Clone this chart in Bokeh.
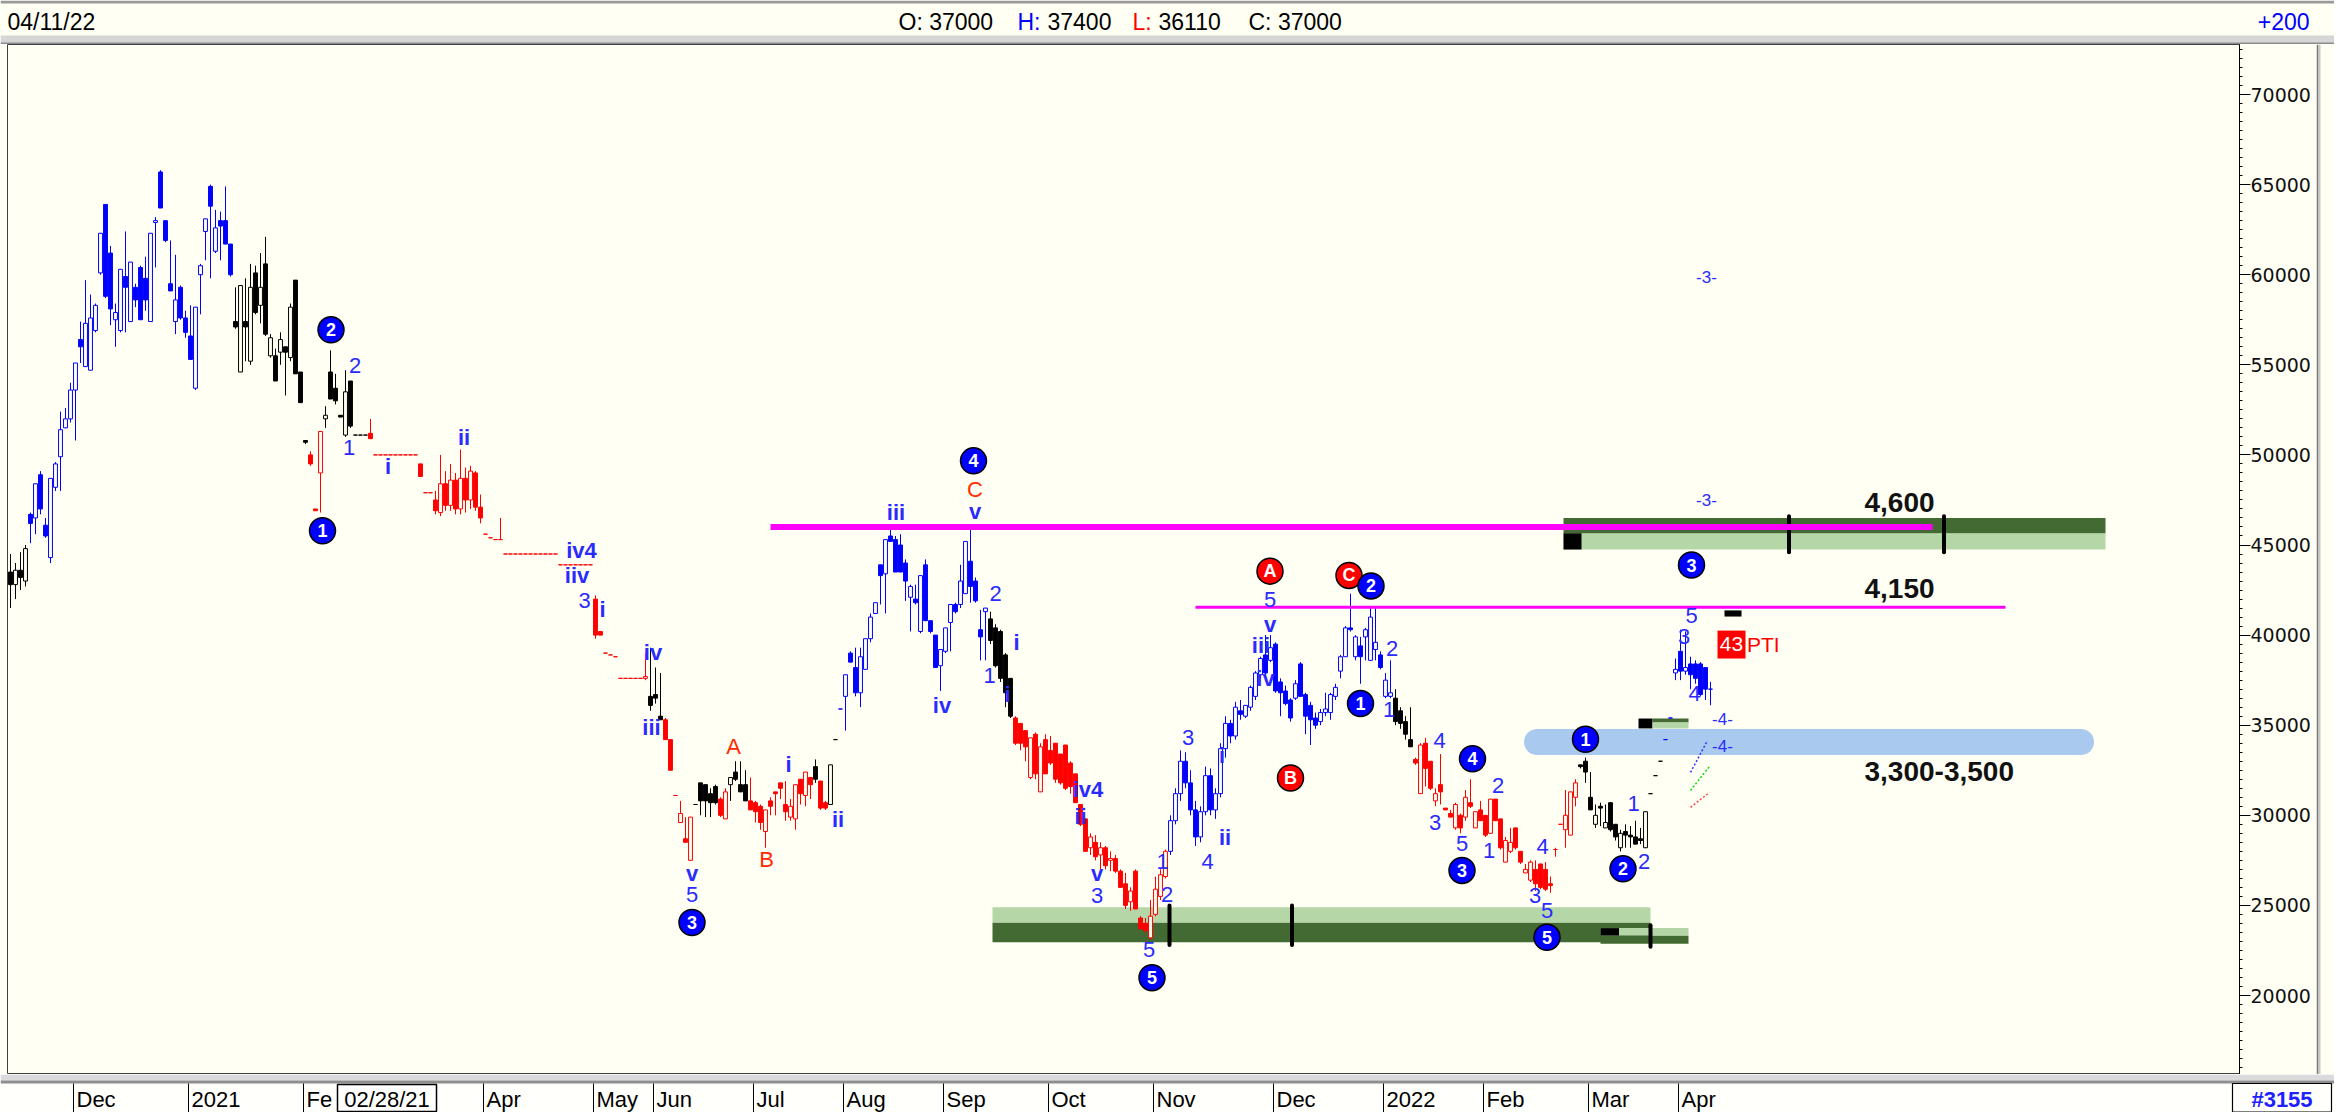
from bokeh.plotting import figure
from bokeh.models import Range1d, SingleIntervalTicker, NumeralTickFormatter, ColumnDataSource
from bokeh.layouts import column, row
from bokeh.embed import file_html
from bokeh.resources import INLINE
from bokeh.core.properties import value

# ---------------------------------------------------------------- data
opens = [
    43500, 42800, 43600, 43000, 46700, 46500, 48900, 46100, 44300, 48200,
    49900, 51500, 52000, 53600, 56400, 54900, 54700, 56900, 60100, 63900,
    61200, 57500, 56900, 59900, 57400, 59300, 60400, 59800, 57400, 62900,
    65700, 63000, 59500, 57400, 59300, 57600, 56600, 53700, 60000, 62400,
    64900, 61300, 63000, 63000, 61700, 57400, 54600, 57400, 55200, 60100,
    58300, 60600, 55500, 55500, 55700, 56000, 55400, 59700, 54600, 50800,
    50000, 47000, 49000, 52000, 54600, 53700, 52200, 51100, 54100, 51100,
    51100, 51100, 51200, 50000, 50000, 50000, 50000, 50000, 50000, 50000,
    50000, 50000, 49500, 47900, 47900, 47500, 46800, 48400, 47200, 48600,
    47000, 48700, 47500, 49000, 47100, 45600, 45400, 45300, 45300, 44500,
    44500, 44500, 44500, 44500, 44500, 44500, 44500, 44500, 44500, 44500,
    43900, 43900, 43900, 43900, 43900, 43900, 43900, 42000, 40200, 39000,
    38900, 38800, 37600, 37600, 37600, 37600, 37600, 37600, 36600, 36700,
    35500, 35300, 34200, 31100, 29600, 28700, 27500, 30600, 31800, 31700,
    31200, 31600, 30900, 29800, 31700, 32400, 31700, 31700, 30800, 30700,
    30500, 29100, 30800, 31300, 31800, 30600, 29900, 29800, 32000, 31100,
    32100, 32700, 31900, 30700, 30600, 34200, 35900, 36600, 39000, 38200,
    36800, 38100, 39800, 41200, 43900, 43400, 45500, 45300, 45000, 44000,
    42100, 42000, 40200, 43900, 40800, 40000, 38300, 39100, 40700, 41700,
    41700, 42300, 44100, 43000, 40300, 41300, 40900, 40400, 40200, 38900,
    37600, 35400, 35100, 34700, 32100, 34500, 31300, 34200, 33600, 34000,
    33400, 33900, 32900, 32300, 30600, 29800, 28200, 28500, 27800, 28200,
    27500, 27600, 26900, 26200, 25200, 26900, 24300, 24000, 23200, 24500,
    25500, 26600, 28000, 29700, 31200, 33000, 31800, 30300, 28800, 30200,
    32200, 30300, 31200, 33700, 35100, 34400, 35800, 35500, 36000, 36600,
    37800, 38900, 38600, 39500, 37400, 36900, 36400, 36500, 38400, 36700,
    36100, 35400, 35200, 35700, 35700, 36600, 38000, 38800, 40400, 38800,
    39400, 39900, 38600, 39200, 38900, 36600, 36600, 36500, 35800, 35200,
    34200, 33100, 31200, 34000, 33000, 30800, 31700, 30400, 30100, 29300,
    30000, 29900, 30700, 29300, 30300, 30000, 29000, 30900, 29800, 27400,
    28000, 29300, 28000, 26800, 26400, 27000, 27300, 27000, 26200, 28100,
    29500, 29200, 28900, 31000, 32800, 33000, 31000, 29500, 30500, 29300,
    30700, 29500, 28200, 29100, 28900, 28800, 28700, 28200, 31200, 32200,
    33000, 34200, 35400, 37900, 39100, 38000, 38400, 38400, 38400, 38200,
    37000,
]
highs = [
    44500, 44000, 44600, 45000, 46800, 48400, 49100, 46500, 48700, 49600,
    52400, 52600, 54000, 55100, 57400, 59700, 58900, 58400, 62300, 63900,
    61600, 58400, 60300, 62400, 60700, 59500, 60500, 61000, 62300, 63200,
    65800, 63000, 61900, 61100, 59400, 58000, 58300, 58200, 60600, 63100,
    65000, 63600, 63500, 64900, 61700, 59300, 59400, 59800, 60600, 60500,
    61200, 62100, 56700, 55900, 56800, 56000, 58400, 59700, 54600, 50800,
    50200, 47000, 51300, 52700, 55800, 54500, 52200, 54700, 54100, 51100,
    51100, 51100, 52000, 50000, 50000, 50000, 50000, 50000, 50000, 50000,
    50000, 50000, 49500, 47900, 47900, 48000, 50000, 49100, 49500, 49000,
    50300, 49300, 49400, 49100, 47800, 45600, 45400, 45300, 46500, 44500,
    44500, 44500, 44500, 44500, 44500, 44500, 44500, 44500, 44500, 44500,
    43900, 43900, 43900, 43900, 43900, 43900, 43900, 42200, 40200, 39000,
    38900, 38800, 37600, 37600, 37600, 37600, 37600, 39000, 39300, 38200,
    37900, 35400, 34200, 31100, 30800, 29900, 29900, 30600, 31800, 31700,
    31500, 31700, 31000, 31500, 32100, 33000, 33000, 32500, 32100, 30800,
    30600, 30300, 31000, 31300, 31800, 31900, 30900, 31700, 32000, 32400,
    32100, 33100, 31900, 30800, 32800, 34200, 35900, 37800, 39100, 39300,
    39300, 39800, 41200, 41800, 43900, 45300, 46000, 45500, 45600, 44200,
    42800, 42800, 43300, 44200, 40800, 40000, 39200, 40400, 41700, 41800,
    43900, 45200, 46100, 43200, 41400, 41500, 41300, 40600, 40300, 39000,
    37600, 35500, 35100, 34700, 34300, 34600, 34000, 34500, 34400, 34000,
    33400, 33900, 33000, 32300, 30600, 29800, 29000, 28900, 28500, 28300,
    28000, 27800, 27000, 26800, 26000, 27000, 24400, 24300, 25300, 26600,
    27000, 28100, 30000, 31500, 33600, 33500, 32500, 30800, 30500, 32700,
    32600, 31500, 34000, 35500, 35300, 36300, 36400, 36100, 37200, 38000,
    38800, 40000, 40000, 39600, 37600, 37200, 36500, 37500, 38500, 36800,
    36300, 35700, 35900, 36800, 36800, 37300, 38900, 40500, 42300, 40000,
    39900, 40400, 41500, 41500, 39100, 37900, 38600, 37000, 36000, 35500,
    36000, 33200, 34000, 34300, 33000, 31500, 33400, 30400, 30300, 30700,
    30100, 31400, 32000, 30200, 30800, 30000, 30900, 30900, 29800, 28800,
    29300, 29300, 28000, 27300, 27500, 27500, 27300, 27400, 26600, 28200,
    29500, 31400, 31300, 32000, 32800, 33200, 32400, 30600, 30700, 30600,
    30700, 29500, 29200, 29500, 29400, 29700, 29300, 30200, 31200, 32200,
    33000, 34200, 35400, 38700, 40300, 40200, 38800, 38600, 38500, 38200,
    37400,
]
lows = [
    41500, 42000, 42500, 42700, 45100, 45600, 46700, 45400, 44000, 48000,
    48000, 51500, 51800, 50800, 55100, 54900, 54700, 56800, 60000, 58700,
    57200, 56000, 56800, 56800, 57400, 58200, 57500, 58000, 57400, 60400,
    63700, 61800, 59100, 56700, 57500, 56500, 55300, 53600, 57800, 60800,
    59800, 61200, 60800, 61700, 59900, 57000, 54600, 55200, 55000, 57800,
    57300, 56600, 55400, 54100, 55000, 53300, 55200, 54500, 52900, 50600,
    49400, 46900, 46800, 51500, 53100, 52800, 52100, 51000, 51500, 51100,
    51100, 51100, 50900, 50000, 50000, 50000, 50000, 50000, 50000, 50000,
    50000, 50000, 48800, 47900, 47900, 46700, 46600, 46900, 46900, 46700,
    46700, 46800, 47000, 46900, 46200, 45600, 45400, 45300, 45300, 44500,
    44500, 44500, 44500, 44500, 44500, 44500, 44500, 44500, 44500, 44500,
    43900, 43900, 43900, 43900, 43900, 43900, 43900, 39800, 40000, 39000,
    38900, 38800, 37600, 37600, 37600, 37600, 37600, 37500, 35800, 36200,
    35300, 34200, 32500, 31100, 29600, 28500, 27500, 30600, 30000, 29900,
    29900, 30600, 29900, 29800, 30800, 31900, 31300, 30800, 30300, 29600,
    29200, 28200, 30000, 30000, 30900, 29700, 29700, 29200, 30600, 30500,
    30900, 31800, 30300, 30300, 30600, 34200, 35900, 34700, 38500, 36600,
    36000, 38100, 39600, 41200, 41700, 41200, 45200, 43500, 43500, 41900,
    40200, 41700, 40100, 40800, 40100, 38200, 36900, 39000, 39100, 41200,
    41500, 42300, 41800, 41800, 38600, 38600, 39500, 38200, 37400, 36000,
    35400, 33900, 33600, 33000, 32000, 32000, 31300, 32300, 32800, 31800,
    31700, 31400, 31200, 30700, 29400, 28000, 27800, 27500, 27000, 27000,
    26900, 26800, 26000, 24800, 24700, 24800, 23700, 23500, 23100, 24400,
    25300, 26500, 27800, 29500, 30800, 31500, 30000, 28300, 28500, 30000,
    30000, 29800, 31000, 33200, 34000, 34200, 35300, 35400, 35800, 36400,
    37600, 37800, 38500, 36800, 35500, 36100, 35200, 36400, 36600, 34500,
    33900, 34800, 35000, 35500, 35300, 36400, 37600, 38800, 40200, 38600,
    37300, 38600, 38600, 38600, 38100, 36500, 36500, 35000, 34800, 34200,
    33800, 32800, 31200, 31600, 31400, 30500, 30600, 30300, 29900, 29200,
    29000, 29700, 30400, 29300, 29700, 28800, 29000, 29700, 28100, 27400,
    27900, 28100, 27300, 26800, 26300, 25800, 25900, 25800, 25700, 27700,
    29500, 28200, 28900, 30500, 32600, 31800, 30300, 29300, 29400, 29300,
    29100, 28600, 28000, 28200, 28200, 28400, 28400, 28200, 31200, 32200,
    33000, 34200, 35400, 37500, 37500, 37800, 37000, 37300, 36600, 36400,
    36110,
]
closes = [
    42800, 43600, 43200, 44800, 46200, 48400, 47000, 45500, 48700, 49500,
    51400, 52000, 53600, 55100, 56000, 57300, 57600, 58300, 62300, 58800,
    58100, 57900, 60300, 59300, 60700, 58600, 57500, 58600, 62300, 63000,
    63700, 61900, 59100, 58600, 57600, 56800, 55300, 58200, 60500, 63100,
    63800, 62600, 62700, 61700, 60000, 57100, 59400, 57100, 59300, 57900,
    59300, 56700, 56500, 54100, 56400, 55700, 58200, 54500, 52900, 50700,
    49500, 46900, 51300, 52200, 53100, 53000, 52100, 53500, 51600, 51100,
    51100, 51100, 50900, 50000, 50000, 50000, 50000, 50000, 50000, 50000,
    50000, 50000, 48800, 47900, 47900, 46900, 48400, 47200, 48600, 47000,
    48700, 47500, 49100, 47100, 46500, 45600, 45400, 45300, 45300, 44500,
    44500, 44500, 44500, 44500, 44500, 44500, 44500, 44500, 44500, 44500,
    43900, 43900, 43900, 43900, 43900, 43900, 43900, 40000, 40000, 39000,
    38900, 38800, 37600, 37600, 37600, 37600, 37600, 37700, 36100, 36500,
    35300, 34200, 32500, 31100, 30100, 28500, 29900, 30600, 30800, 30800,
    30700, 30700, 30000, 31300, 32100, 32000, 31300, 30800, 30300, 30200,
    29600, 30300, 30500, 31200, 31500, 30200, 30500, 31700, 31200, 32400,
    31700, 32000, 30400, 30400, 32800, 34200, 35900, 37800, 38500, 36800,
    38800, 39800, 41000, 41800, 43300, 45300, 45200, 43500, 43500, 43000,
    42700, 41800, 43300, 40800, 40200, 38200, 39200, 40400, 41700, 41300,
    43000, 45200, 42700, 41900, 39900, 41500, 39700, 38300, 37600, 36800,
    35500, 34000, 34000, 33800, 34300, 32300, 33800, 32300, 32900, 32000,
    31800, 31500, 31600, 30700, 29500, 28000, 28800, 27700, 28200, 27200,
    27600, 26900, 26000, 25000, 25800, 24800, 23700, 23600, 24400, 25900,
    26700, 28000, 29700, 31200, 33000, 31800, 30300, 28800, 30200, 32200,
    30300, 31200, 33700, 35100, 34400, 36000, 35600, 36100, 37100, 37900,
    38700, 37900, 39300, 36900, 36800, 36200, 35400, 37300, 36600, 35500,
    35300, 35000, 35700, 35900, 36700, 37100, 38800, 40400, 40300, 39900,
    38800, 40300, 41000, 39600, 38200, 37500, 36800, 35200, 35100, 34500,
    33800, 32900, 33900, 32600, 31500, 31200, 31300, 30300, 29900, 30600,
    29300, 31000, 30500, 30200, 29700, 28900, 30900, 29700, 28200, 28600,
    28500, 28200, 27400, 27000, 27400, 26200, 26000, 25900, 26100, 28100,
    29500, 30000, 31300, 31800, 32700, 32400, 30300, 30000, 30400, 29600,
    29200, 28800, 29000, 28900, 28800, 28400, 28600, 30200, 31200, 32200,
    33000, 34200, 35400, 38100, 38000, 38200, 37800, 37600, 36700, 37000,
    37000,
]
# trend colour of each bar (b = blue, k = black, r = red), as runs
colour_runs = [("k", 4), ("b", 41), ("k", 15), ("r", 3), ("k", 9), ("r", 56),
               ("k", 3), ("r", 6), ("k", 5), ("r", 2), ("k", 4), ("r", 13),
               ("k", 1), ("r", 2), ("k", 2), ("b", 30), ("k", 5), ("r", 31),
               ("b", 45), ("k", 4), ("r", 33), ("k", 17), ("b", 10)]

# x axis: first bar of each month
month_labels = ["Dec", "2021", "Fe", "Apr", "May", "Jun", "Jul", "Aug", "Sep",
                "Oct", "Nov", "Dec", "2022", "Feb", "Mar", "Apr"]
month_start_bar = [13, 36, 59, 95, 117, 129, 149, 167, 187, 208, 229, 253,
                   275, 295, 316, 334]
cursor_date = "02/28/21"
cursor_bar = 75.3
bar_count_label = "#3155"

# header readout
hdr_date = "04/11/22"
hdr_o, hdr_h, hdr_l, hdr_c = 37000, 37400, 36110, 37000
hdr_change = "+200"

# wave labels (bar position, price)
blue_txt = ["2", "1", "i", "ii", "iv4", "iiv", "3", "i", "iv", "iii", "v", "5",
            "i", "ii", "iii", "iv", "v", "2", "1", "i", "i", "ii", "iv4", "v",
            "3", "5", "1", "2", "3", "4", "i", "ii", "5", "v", "iii", "iv", "2",
            "1", "4", "3", "5", "1", "2", "4", "3", "5", "1", "2", "5", "3", "4"]
blue_x = [68.9, 67.7, 75.5, 90.7, 114.2, 113.3, 114.8, 118.4, 128.5, 128.2,
          136.3, 136.3, 155.6, 165.5, 177.1, 186.3, 192.9, 197.0, 195.8, 201.2,
          199.4, 214.0, 215.5, 217.3, 217.3, 227.7, 230.4, 231.3, 235.5, 239.4,
          242.3, 242.9, 251.9, 251.9, 250.1, 251.0, 276.3, 275.7, 285.8, 284.9,
          290.3, 295.7, 297.5, 306.4, 304.9, 307.3, 324.6, 326.7, 336.2, 334.7,
          336.8]
blue_y = [54960, 50410, 49340, 50990, 44710, 43310, 41900, 41410, 39010, 34880,
          26780, 25620, 32810, 29750, 46780, 36120, 46860, 42320, 37770, 39590,
          36700, 29920, 31410, 26780, 25540, 22560, 27440, 25620, 34300, 27440,
          33310, 28760, 41990, 40580, 39420, 37600, 39260, 35870, 34130, 29590,
          28430, 28020, 31660, 28270, 25540, 24710, 30660, 27440, 41080, 39920,
          36780]
red_txt = ["C", "A", "B"]
red_x = [192.9, 144.6, 151.2]
red_y = [48100, 33800, 27520]
bcirc_txt = ["2", "1", "3", "4", "5", "2", "1", "4", "3", "5", "1", "2", "3"]
bcirc_x = [64.1, 62.4, 136.3, 192.6, 228.3, 272.1, 270.0, 292.4, 290.3, 307.3,
           315.0, 322.5, 336.2]
bcirc_y = [56940, 45790, 24050, 49670, 20990, 42730, 36200, 33140, 26940, 23230,
           34220, 27030, 43890]
rcirc_txt = ["A", "C", "B"]
rcirc_x = [251.9, 267.7, 256.0]
rcirc_y = [43550, 43310, 32070]

# horizontal levels
level_price = [46000, 41550]
level_from = [152, 237]
level_to = [384.4, 399]
level_txt = ["4,600", "4,150", "3,300-3,500"]
level_txt_y = [47360, 42590, 32430]
level_txt_x = 370.8
target_band = (305.3, 414.1, 34070)

# support / resistance zones: (from, to, low, mid, high, dark part on top?)
zones = [(310.6, 419.0, 44750, 45650, 46500, True),
         (196.4, 328.0, 22950, 24050, 24900, False),
         (318.0, 335.6, 22870, 23330, 23740, False)]
zone_ticks_x = [355.7, 386.7, 231.8, 256.3, 328.0]
zone_ticks_lo = [44600, 44600, 22800, 22800, 22700]
zone_ticks_hi = [46600, 46600, 25000, 25000, 23900]

# ---------------------------------------------------------------- styling
BG = "#FFFFF4"
FONT = "Liberation Sans"
BLUE_T = "#2B2BFF"
RED_T = "#FF2A00"
LIGHT_G, DARK_G = "#B5D6A7", "#436A32"
LEFT_W = 7
FRAME_W, FRAME_H = 2232, 1030
RIGHT_W = 77
SIDE_W = 18
TOTAL_W = LEFT_W + FRAME_W + RIGHT_W + SIDE_W
HDR_H, STRIP_H = 44, 38
PX_PER_BAR = 5.0
X0 = -0.6
X1 = X0 + FRAME_W / PX_PER_BAR
Y_BOT, Y_TOP = 15616, 72775

N = min(len(opens), len(highs), len(lows), len(closes))
codes = "".join(c * n for c, n in colour_runs)
palette = {"b": "#0000FF", "k": "#000000", "r": "#FF0000"}
bar_col = [palette[codes[i]] if i < len(codes) else "#000000" for i in range(N)]
src = ColumnDataSource(dict(
    x=list(range(N)),
    h=highs[:N], l=lows[:N],
    top=[max(o, c) for o, c in zip(opens[:N], closes[:N])],
    bot=[min(o, c) for o, c in zip(opens[:N], closes[:N])],
    col=bar_col,
    fill=[bar_col[i] if closes[i] < opens[i] else BG for i in range(N)],
))

# ---------------------------------------------------------------- main chart
p = figure(frame_width=FRAME_W, frame_height=FRAME_H,
           x_range=Range1d(X0, X1), y_range=Range1d(Y_BOT, Y_TOP),
           output_backend="svg", toolbar_location=None,
           x_axis_location=None, y_axis_location="right",
           min_border_left=LEFT_W, min_border_top=0, min_border_bottom=0,
           min_border_right=RIGHT_W,
           background_fill_color=BG, border_fill_color=BG,
           outline_line_color="#404040", outline_line_width=1)
p.grid.visible = False
ya = p.yaxis[0]
ya.ticker = SingleIntervalTicker(interval=5000, num_minor_ticks=10)
ya.formatter = NumeralTickFormatter(format="0")
ya.major_tick_out = 11
ya.major_tick_in = 0
ya.minor_tick_out = 3
ya.minor_tick_in = 0
ya.major_tick_line_color = "black"
ya.minor_tick_line_color = "black"
ya.axis_line_color = "black"
ya.major_label_standoff = 0
ya.major_label_text_font = "DejaVu Sans"
ya.major_label_text_font_size = "19px"
ya.major_label_text_color = "#101010"

# target band (pill)
p.line(x=[target_band[0], target_band[1]], y=[target_band[2]] * 2,
       line_width=26, line_cap="round", color="#A9C9EF")

# zones
for (z0, z1, lo, mid, hi, dark_top) in zones:
    p.quad(left=[z0], right=[z1], bottom=[lo], top=[mid],
           fill_color=LIGHT_G if dark_top else DARK_G, line_color=None)
    p.quad(left=[z0], right=[z1], bottom=[mid], top=[hi],
           fill_color=DARK_G if dark_top else LIGHT_G, line_color=None)
# zone start markers
p.quad(left=[310.6, 318.0], right=[314.2, 321.7], bottom=[44750, 23330],
       top=[45650, 23740], fill_color="black", line_color=None)
# small zone near 35000
p.quad(left=[325.6], right=[328.4], bottom=[34820], top=[35370],
       fill_color="black", line_color=None)
p.quad(left=[328.4], right=[335.6], bottom=[35150], top=[35370],
       fill_color=DARK_G, line_color=None)
p.quad(left=[328.4], right=[335.6], bottom=[34820], top=[35150],
       fill_color=LIGHT_G, line_color=None)
p.segment(x0=zone_ticks_x, x1=zone_ticks_x, y0=zone_ticks_lo, y1=zone_ticks_hi,
          line_width=4, line_cap="round", color="black")

# candles
p.segment(x0="x", y0="l", x1="x", y1="h", line_color="col", line_width=1, source=src)
p.vbar(x="x", width=0.78, top="top", bottom="bot", fill_color="fill",
       line_color="col", line_width=1, source=src)

# levels
p.segment(x0=[level_from[0]], x1=[level_to[0]], y0=[level_price[0]], y1=[level_price[0]],
          line_width=6, color="#FF00FF")
p.segment(x0=[level_from[1]], x1=[level_to[1]], y0=[level_price[1]], y1=[level_price[1]],
          line_width=3, color="#FF00FF")
p.text(x=[level_txt_x] * 3, y=level_txt_y, text=level_txt,
       text_font=value(FONT), text_font_size="28px", text_font_style="bold",
       text_color="#111111", text_align="left", text_baseline="middle")

# small marks near the last bar
p.quad(left=[342.8], right=[346.2], bottom=[41030], top=[41370],
       fill_color="black", line_color=None)
p.quad(left=[341.4], right=[347.0], bottom=[38700], top=[40250],
       fill_color="#FF0000", line_color=None)
p.text(x=[344.2], y=[39480], text=["43"], text_font=value(FONT),
       text_font_size="21px", text_color="white", text_align="center",
       text_baseline="middle")
p.text(x=[347.3], y=[39480], text=["PTI"], text_font=value(FONT),
       text_font_size="21px", text_color="#FF0000", text_align="left",
       text_baseline="middle")
p.text(x=[339.2, 339.2, 342.4, 342.4], y=[59900, 47500, 35370, 33870],
       text=["-3-", "-3-", "-4-", "-4-"], text_font=value(FONT),
       text_font_size="17px", text_color=BLUE_T, text_align="center",
       text_baseline="middle")
p.line(x=[336.0, 339.4], y=[32380, 34150], line_dash="2 2", line_width=1.5, color="#3030FF")
p.line(x=[336.0, 339.8], y=[31380, 32710], line_dash="2 2", line_width=1.5, color="#00DD00")
p.line(x=[336.0, 339.8], y=[30440, 31270], line_dash="2 2", line_width=1.5, color="#FF4444")

# wave labels
blue_style = ["normal" if t.isdigit() else "bold" for t in blue_txt]
p.text(x="x", y="y", text="t", text_font_style="s",
       source=ColumnDataSource(dict(x=blue_x, y=blue_y, t=blue_txt, s=blue_style)),
       text_font=value(FONT), text_font_size="22px", text_color=BLUE_T,
       text_align="center", text_baseline="middle")
p.text(x=red_x, y=red_y, text=red_txt, text_font=value(FONT),
       text_font_size="22px", text_color=RED_T, text_align="center",
       text_baseline="middle")
p.scatter(x=rcirc_x, y=rcirc_y, size=26, marker="circle", fill_color="#FF0000",
          line_color="black", line_width=1.5)
p.text(x=rcirc_x, y=rcirc_y, text=rcirc_txt, text_font=value(FONT),
       text_font_size="18px", text_font_style="bold", text_color="white",
       text_align="center", text_baseline="middle")
p.scatter(x=bcirc_x, y=bcirc_y, size=26, marker="circle", fill_color="#0000FF",
          line_color="black", line_width=1.5)
p.text(x=bcirc_x, y=bcirc_y, text=bcirc_txt, text_font=value(FONT),
       text_font_size="18px", text_font_style="bold", text_color="white",
       text_align="center", text_baseline="middle")

# right-hand window border
side = figure(frame_width=SIDE_W, frame_height=FRAME_H,
              x_range=Range1d(0, SIDE_W), y_range=Range1d(0, FRAME_H),
              output_backend="svg", toolbar_location=None,
              x_axis_location=None, y_axis_location=None, min_border=0,
              background_fill_color=BG, border_fill_color=BG, outline_line_color=None)
side.grid.visible = False
side.quad(left=[0], right=[2], bottom=[0], top=[FRAME_H], fill_color="#7A7A7A", line_color=None)
side.quad(left=[2], right=[4], bottom=[0], top=[FRAME_H], fill_color="#C8C8C8", line_color=None)

# ---------------------------------------------------------------- header
hdr = figure(frame_width=TOTAL_W, frame_height=HDR_H,
             x_range=Range1d(0, TOTAL_W), y_range=Range1d(0, HDR_H),
             output_backend="svg", toolbar_location=None,
             x_axis_location=None, y_axis_location=None, min_border=0,
             background_fill_color=BG, border_fill_color=BG, outline_line_color=None)
hdr.grid.visible = False
hdr.quad(left=[0], right=[TOTAL_W], bottom=[HDR_H - 3], top=[HDR_H],
         fill_color="#9A9A9A", line_color=None)
hdr.quad(left=[0], right=[TOTAL_W], bottom=[0], top=[9], fill_color="#D6D6D6", line_color=None)
hdr.quad(left=[0], right=[TOTAL_W], bottom=[0], top=[2], fill_color="#8C8C8C", line_color=None)
hfont = dict(text_font=value(FONT), text_font_size="23px", text_baseline="middle")
HY = 23
hdr.text(x=[7], y=[HY], text=[hdr_date], text_color="black", text_align="left", **hfont)
hdr.text(x=[898, 1047, 1158], y=[HY] * 3,
         text=[f"O: {hdr_o}", f"{hdr_h}", f"{hdr_l}"],
         text_color="black", text_align="left", **hfont)
hdr.text(x=[1017], y=[HY], text=["H:"], text_color="#0000FF", text_align="left", **hfont)
hdr.text(x=[1132], y=[HY], text=["L:"], text_color="#FF0000", text_align="left", **hfont)
hdr.text(x=[1248], y=[HY], text=[f"C: {hdr_c}"], text_color="black", text_align="left", **hfont)
hdr.text(x=[2309], y=[HY], text=[hdr_change], text_color="#0000FF", text_align="right", **hfont)

# ---------------------------------------------------------------- date strip
SX0 = X0 - LEFT_W / PX_PER_BAR
SX1 = SX0 + TOTAL_W / PX_PER_BAR
strip = figure(frame_width=TOTAL_W, frame_height=STRIP_H,
               x_range=Range1d(SX0, SX1), y_range=Range1d(0, STRIP_H),
               output_backend="svg", toolbar_location=None,
               x_axis_location=None, y_axis_location=None, min_border=0,
               background_fill_color="#FFFFFB", border_fill_color=BG, outline_line_color=None)
strip.grid.visible = False
strip.quad(left=[SX0], right=[SX1], bottom=[STRIP_H - 6], top=[STRIP_H],
           fill_color="#DADADA", line_color=None)
strip.quad(left=[SX0], right=[SX1], bottom=[STRIP_H - 9], top=[STRIP_H - 6],
           fill_color="#8E8E8E", line_color=None)
TOP_T = STRIP_H - 9
LY = 13.5
tick_x = [b - 0.4 for b in month_start_bar]
strip.segment(x0=tick_x, x1=tick_x, y0=[0] * len(tick_x), y1=[TOP_T] * len(tick_x),
              color="black", line_width=1)
strip.text(x=tick_x, y=[LY] * len(tick_x), text=month_labels, x_offset=3,
           text_font=value(FONT), text_font_size="22px", text_color="black",
           text_align="left", text_baseline="middle")
strip.quad(left=[cursor_bar - 9.9], right=[cursor_bar + 9.9], bottom=[1], top=[TOP_T - 1],
           fill_color="white", line_color="black", line_width=1.5)
strip.text(x=[cursor_bar], y=[LY], text=[cursor_date], text_font=value(FONT),
           text_font_size="22px", text_color="black", text_align="center",
           text_baseline="middle")
strip.quad(left=[X1 - 1.4], right=[SX1 - 0.6], bottom=[0.5], top=[TOP_T],
           fill_color="#FFFFFB", line_color="black", line_width=1.2)
strip.text(x=[(X1 - 1.4 + SX1 - 0.6) / 2], y=[LY], text=[bar_count_label],
           text_font=value(FONT), text_font_size="22px", text_font_style="bold",
           text_color="#2020FF", text_align="center", text_baseline="middle")

layout = column(hdr, row(p, side, spacing=0), strip, spacing=0)
open("out.html", "w").write(file_html(layout, INLINE))
